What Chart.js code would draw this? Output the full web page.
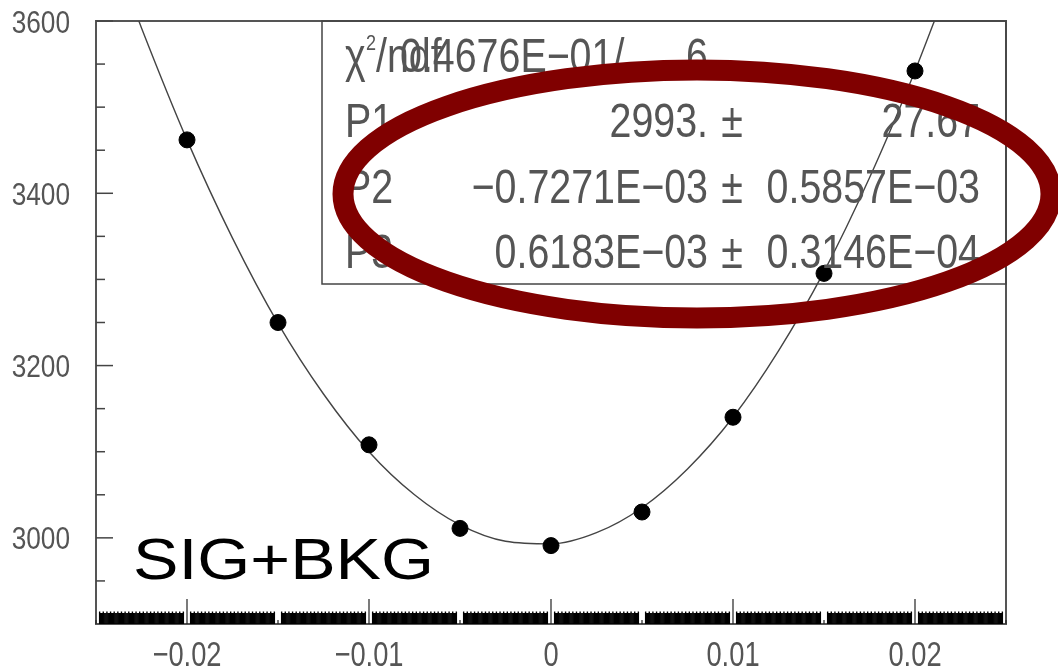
<!DOCTYPE html>
<html>
<head>
<meta charset="utf-8">
<script src="https://cdn.jsdelivr.net/npm/chart.js@4.4.1/dist/chart.umd.min.js"></script>
<style>
  body { margin: 0; background: #fff; }
</style>
</head>
<body>
<canvas id="fit" width="1058" height="669"></canvas>
<script>
// measured points (SIG+BKG)
const pointX = [-0.02, -0.015, -0.01, -0.005, 0, 0.005, 0.01, 0.015, 0.02];
const pointY = [3462, 3250, 3108, 3011, 2991, 3030, 3140, 3307, 3542];

// fitted curve
const curveX = [-0.023, -0.0225, -0.02, -0.0175, -0.015, -0.0125, -0.01, -0.0075, -0.005, -0.0025,
  0, 0.0025, 0.005, 0.0075, 0.01, 0.0125, 0.015, 0.0175, 0.02, 0.0215];
const curveY = [3620, 3592, 3462, 3348, 3249, 3167, 3100, 3050, 3015, 2996,
  2993, 3006, 3035, 3080, 3140, 3217, 3309, 3418, 3542, 3624];

const xTicks = [-0.02, -0.01, 0, 0.01, 0.02];
const yTicks = [3000, 3200, 3400, 3600];

// stats box
const statNames = ["P1", "P2", "P3"];
const statValues = ["2993.", "\u22120.7271E\u221203", "0.6183E\u221203"];
const statErrors = ["27.67", "0.5857E\u221203", "0.3146E\u221204"];
const chiValue = "0.4676E\u221201/";
const ndfValue = "6";
const label = "SIG+BKG";

const FONT = "'Liberation Sans', Arial, sans-serif";
const GREY = "#555";

const fmtX = (v) => (v === 0 ? "0" : (v < 0 ? "\u2212" : "") + Math.abs(v).toFixed(2));

// narrow HIGZ-looking text: regular sans squeezed horizontally
function squeeze(ctx, txt, x, y, size, sx, align) {
  ctx.save();
  ctx.font = size + "px " + FONT;
  ctx.textAlign = align;
  ctx.textBaseline = "alphabetic";
  ctx.translate(x, y);
  ctx.scale(sx, 1);
  ctx.fillText(txt, 0, 0);
  ctx.restore();
}

const decor = {
  id: "decor",
  beforeDatasetsDraw(chart) {
    const { ctx, chartArea: a } = chart;
    const xs = chart.scales.x, ys = chart.scales.y;
    ctx.save();
    // frame
    ctx.strokeStyle = GREY;
    ctx.lineWidth = 2;
    ctx.strokeRect(a.left, a.top, a.right - a.left, a.bottom - a.top);

    // y ticks inside, minor every 50
    ctx.strokeStyle = "#444";
    ctx.lineWidth = 1.5;
    for (let v = 2950; v <= 3600; v += 50) {
      const py = ys.getPixelForValue(v);
      const len = v % 200 === 0 ? 17 : 9;
      ctx.beginPath();
      ctx.moveTo(a.left, py);
      ctx.lineTo(a.left + len, py);
      ctx.stroke();
    }

    // x axis: dense tick band with notches at every 0.005
    ctx.strokeStyle = "#000";
    ctx.lineWidth = 1.4;
    for (let i = -500; i <= 500; i++) {
      const k = ((i % 100) + 100) % 100;
      if (k <= 3 || k >= 97) continue;
      const px = xs.getPixelForValue(i / 20000);
      const len = i % 4 === 0 ? 12.5 : 11;
      ctx.beginPath();
      ctx.moveTo(px, a.bottom);
      ctx.lineTo(px, a.bottom - len);
      ctx.stroke();
    }
    ctx.strokeStyle = "#222";
    ctx.lineWidth = 1.2;
    for (let i = -5; i <= 5; i++) {
      const px = xs.getPixelForValue(i * 0.005);
      const len = i % 2 === 0 ? 25 : 4;
      ctx.beginPath();
      ctx.moveTo(px, a.bottom);
      ctx.lineTo(px, a.bottom - len);
      ctx.stroke();
    }

    // tick labels at the scale positions
    ctx.fillStyle = GREY;
    ys.ticks.forEach((t) => {
      squeeze(ctx, String(t.value), 70, ys.getPixelForValue(t.value) + 11.5, 32, 0.82, "right");
    });
    xs.ticks.forEach((t) => {
      squeeze(ctx, fmtX(t.value), xs.getPixelForValue(t.value), 666, 35, 0.78, "center");
    });
    ctx.restore();
  },
  afterDraw(chart) {
    const { ctx, chartArea: a } = chart;
    ctx.save();

    // stats box
    ctx.strokeStyle = "#444";
    ctx.lineWidth = 1.5;
    ctx.strokeRect(322, a.top, a.right - 322, 284 - a.top);

    ctx.fillStyle = GREY;
    squeeze(ctx, "\u03c7", 345, 72, 48, 0.82, "left");
    squeeze(ctx, "2", 366, 50, 22, 0.82, "left");
    squeeze(ctx, "/ndf", 376, 72, 48, 0.82, "left");
    squeeze(ctx, chiValue, 400, 72, 48, 0.82, "left");
    squeeze(ctx, ndfValue, 708, 72, 48, 0.82, "right");

    const rowY = [137, 203, 268];
    statNames.forEach((n, i) => {
      squeeze(ctx, n, 345, rowY[i], 48, 0.82, "left");
      squeeze(ctx, statValues[i], 708, rowY[i], 48, 0.82, "right");
      squeeze(ctx, "\u00b1", 732, rowY[i], 48, 0.82, "center");
      squeeze(ctx, statErrors[i], 980, rowY[i], 48, 0.82, "right");
    });

    // big label
    ctx.fillStyle = "#000";
    ctx.font = "58px " + FONT;
    const w = ctx.measureText(label).width;
    squeeze(ctx, label, 133, 579, 58, 301 / w, "left");

    // red highlight ellipse
    ctx.strokeStyle = "#800000";
    ctx.lineWidth = 21;
    ctx.beginPath();
    ctx.ellipse(697, 194, 354, 124, 0, 0, Math.PI * 2);
    ctx.stroke();
    ctx.restore();
  }
};

new Chart(document.getElementById("fit"), {
  type: "scatter",
  data: {
    datasets: [
      {
        data: pointX.map((x, i) => ({ x, y: pointY[i] })),
        showLine: false,
        pointRadius: 8,
        pointBackgroundColor: "#000",
        pointBorderColor: "#000",
        order: 0
      },
      {
        data: curveX.map((x, i) => ({ x, y: curveY[i] })),
        showLine: true,
        pointRadius: 0,
        borderColor: "#444",
        borderWidth: 1.4,
        cubicInterpolationMode: "monotone",
        order: 1
      }
    ]
  },
  options: {
    responsive: false,
    animation: false,
    layout: { padding: { top: 21, right: 52, left: 0, bottom: 0 } },
    plugins: {
      legend: { display: false },
      tooltip: { enabled: false }
    },
    scales: {
      x: {
        type: "linear",
        min: -0.025,
        max: 0.025,
        afterBuildTicks: (s) => { s.ticks = xTicks.map((v) => ({ value: v })); },
        afterFit: (s) => { s.height = 45; },
        grid: { display: false },
        border: { display: false },
        ticks: { display: false }
      },
      y: {
        type: "linear",
        min: 2900,
        max: 3600,
        afterBuildTicks: (s) => { s.ticks = yTicks.map((v) => ({ value: v })); },
        afterFit: (s) => { s.width = 96; },
        grid: { display: false },
        border: { display: false },
        ticks: { display: false }
      }
    }
  },
  plugins: [decor]
});
</script>
</body>
</html>
